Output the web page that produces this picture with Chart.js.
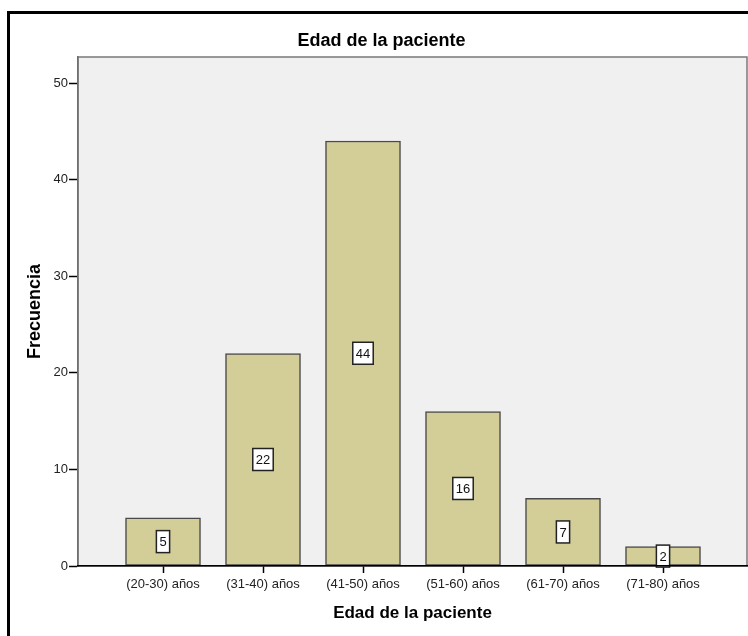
<!DOCTYPE html>
<html>
<head>
<meta charset="utf-8">
<script src="https://cdn.jsdelivr.net/npm/chart.js@4/dist/chart.umd.min.js"></script>
<style>
  html, body { margin: 0; padding: 0; background: #fff; overflow: hidden; }
  #wrap { position: relative; width: 748px; height: 636px; }
  #frame { position: absolute; left: 7px; top: 11px; width: 780px; height: 700px;
           border: 3px solid #000; pointer-events: none; }
</style>
</head>
<body>
<div id="wrap">
  <canvas id="barCanvas" width="748" height="636"></canvas>
  <div id="frame"></div>
</div>
<script>
const categories = ["(20-30) años", "(31-40) años", "(41-50) años", "(51-60) años", "(61-70) años", "(71-80) años"];
const frecuencia = [5, 22, 44, 16, 7, 2];
const yTicks = [0, 10, 20, 30, 40, 50];

const FONT = "'Liberation Sans', Arial, sans-serif";

// fondo gris del area de trazado
const plotBackground = {
    id: "plotBackground",
    beforeDraw(chart) {
        const {ctx, chartArea: a} = chart;
        ctx.save();
        ctx.fillStyle = "#f0f0f0";
        ctx.fillRect(a.left, a.top, a.right - a.left, a.bottom - a.top);
        ctx.strokeStyle = "#7a7a7a";
        ctx.lineWidth = 1.5;
        ctx.strokeRect(a.left, a.top, a.right - a.left, a.bottom - a.top);
        ctx.restore();
    }
};

// etiquetas con recuadro blanco en el centro de cada barra
const boxLabels = {
    id: "boxLabels",
    afterDatasetsDraw(chart) {
        const {ctx} = chart;
        const meta = chart.getDatasetMeta(0);
        ctx.save();
        ctx.font = "13px " + FONT;
        ctx.textAlign = "center";
        ctx.textBaseline = "middle";
        meta.data.forEach((bar, i) => {
            const txt = String(frecuencia[i]);
            const cx = bar.x;
            const cy = (bar.y + bar.base) / 2;
            const w = ctx.measureText(txt).width + 6;
            const h = 22;
            ctx.fillStyle = "#fff";
            ctx.fillRect(cx - w / 2, cy - h / 2, w, h);
            ctx.strokeStyle = "#222";
            ctx.lineWidth = 1.5;
            ctx.strokeRect(cx - w / 2, cy - h / 2, w, h);
            ctx.fillStyle = "#111";
            ctx.fillText(txt, cx, cy + 1);
        });
        ctx.restore();
    }
};

const barCanvas = document.getElementById("barCanvas");

const barChart = new Chart(barCanvas, {
    type: "bar",
    data: {
        datasets: [{
            data: frecuencia.map((v, i) => ({x: i, y: v})),
            backgroundColor: "#d3ce97",
            borderColor: "#4a4a4a",
            borderWidth: 1.5,
            borderSkipped: false,
            barThickness: 75
        }]
    },
    options: {
        responsive: false,
        animation: false,
        layout: {
            padding: {left: 16, right: 1, top: 0, bottom: 0}
        },
        plugins: {
            legend: {display: false},
            tooltip: {enabled: false},
            title: {
                display: true,
                text: "Edad de la paciente",
                color: "#000",
                font: {family: FONT, size: 18, weight: "bold"},
                padding: {top: 30, bottom: 5.4}
            }
        },
        scales: {
            x: {
                type: "linear",
                offset: false,
                min: -0.85,
                max: 5.84,
                afterBuildTicks(scale) {
                    scale.ticks = categories.map((c, i) => ({value: i}));
                },
                afterFit(scale) {
                    scale.height = 70;
                },
                ticks: {
                    autoSkip: false,
                    maxRotation: 0,
                    padding: 4,
                    color: "#222",
                    font: {family: FONT, size: 13},
                    callback: (v) => categories[v]
                },
                grid: {
                    offset: false,
                    drawOnChartArea: false,
                    drawTicks: true,
                    tickLength: 7,
                    tickColor: "#000",
                    tickWidth: 1.5
                },
                border: {color: "#000", width: 1.5, z: 1},
                title: {
                    display: true,
                    text: "Edad de la paciente",
                    color: "#000",
                    font: {family: FONT, size: 17, weight: "bold"},
                    padding: {top: 0, bottom: 12.8}
                }
            },
            y: {
                min: 0,
                max: 52.7,
                afterBuildTicks(scale) {
                    scale.ticks = yTicks.map(v => ({value: v}));
                },
                afterFit(scale) {
                    scale.width = 62;
                },
                ticks: {
                    padding: 1,
                    color: "#222",
                    font: {family: FONT, size: 13}
                },
                grid: {
                    drawOnChartArea: false,
                    drawTicks: true,
                    tickLength: 9,
                    tickColor: "#000",
                    tickWidth: 1.5
                },
                border: {color: "#6e6e6e", width: 1.5},
                title: {
                    display: true,
                    text: "Frecuencia",
                    color: "#000",
                    font: {family: FONT, size: 18, weight: "bold"},
                    padding: {top: 8.2, bottom: 0}
                }
            }
        }
    },
    plugins: [plotBackground, boxLabels]
});
</script>
</body>
</html>
